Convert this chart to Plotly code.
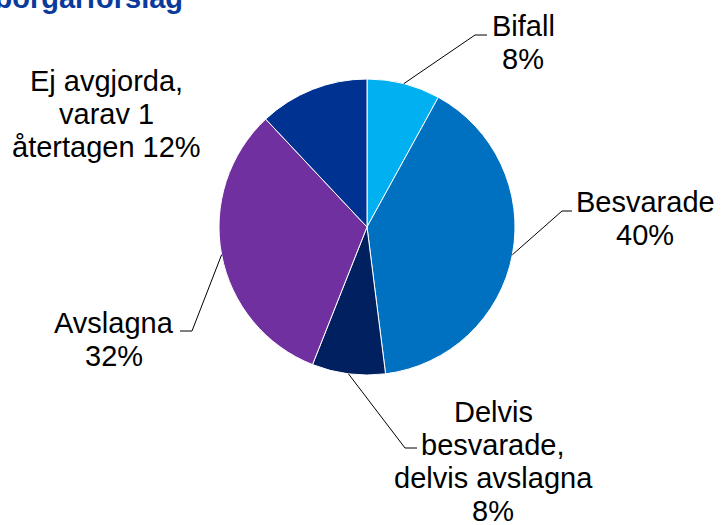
import math
import plotly.graph_objects as go

# ---- data ----
categories = ["Bifall", "Besvarade", "Delvis besvarade, delvis avslagna", "Avslagna", "Ej avgjorda, varav 1 återtagen"]
values = [8, 40, 8, 32, 12]
colors = ["#00B0F0", "#0070C0", "#002060", "#7030A0", "#003391"]
label_lines = [
    ["Bifall", "8%"],
    ["Besvarade", "40%"],
    ["Delvis", "besvarade,", "delvis avslagna", "8%"],
    ["Avslagna", "32%"],
    ["Ej avgjorda,", "varav 1", "återtagen 12%"],
]
title_text = "Utfall av medborgarförslag"

# ---- layout constants (pixels) ----
W, H = 721, 525
CX, CY, R = 367, 227, 148
FS = 29
LINE_H = 33
# label anchor: (center x, first baseline y)
label_pos = [(523, 36), (645, 212), (493, 422), (114, 333), (106, 91)]
# leader: (elbow, end) or None
leaders = [((475, 35), (487, 35)),
           ((562, 211), (572, 211)),
           ((405, 448), (417, 448)),
           ((192, 331), (180, 331)),
           None]

def px(x):
    return x / W

def py(y):
    return 1 - y / H

fig = go.Figure()
fig.add_trace(go.Pie(
    labels=categories, values=values, sort=False, direction="clockwise", rotation=0,
    marker=dict(colors=colors, line=dict(color="white", width=1)),
    textinfo="none", hoverinfo="label+percent", showlegend=False,
    domain=dict(x=[px(CX - R), px(CX + R)], y=[py(CY + R), py(CY - R)]),
))

annotations = []
shapes = []
total = sum(values)
cum = 0
for i, v in enumerate(values):
    mid = (cum + v / 2) / total * 2 * math.pi
    cum += v
    ex = CX + R * math.sin(mid)
    ey = CY - R * math.cos(mid)
    lx, ly = label_pos[i]
    for j, line in enumerate(label_lines[i]):
        base = ly + j * LINE_H
        annotations.append(dict(
            x=px(lx), y=py(base - 0.36 * FS), xref="paper", yref="paper",
            text=line, showarrow=False, xanchor="center", yanchor="middle",
            font=dict(family="Liberation Sans, Arial, sans-serif", size=FS, color="black"),
        ))
    if leaders[i] is not None:
        (bx, by), (dx, dy) = leaders[i]
        shapes.append(dict(
            type="path", xref="paper", yref="paper",
            path=f"M {px(ex)} {py(ey)} L {px(bx)} {py(by)} L {px(dx)} {py(dy)}",
            line=dict(color="black", width=1),
        ))

annotations.append(dict(
    x=px(185), y=py(8 - 0.36 * FS), xref="paper", yref="paper",
    text=f"<b>{title_text}</b>", showarrow=False, xanchor="right", yanchor="middle",
    font=dict(family="Liberation Sans, Arial, sans-serif", size=FS, color="#0A3A9C"),
))

fig.update_layout(
    width=W, height=H, margin=dict(l=0, r=0, t=0, b=0),
    paper_bgcolor="white", plot_bgcolor="white",
    annotations=annotations, shapes=shapes, showlegend=False,
)
fig.write_html("out.html", config={"displayModeBar": False},
               post_script="document.body.style.margin='0px';")
